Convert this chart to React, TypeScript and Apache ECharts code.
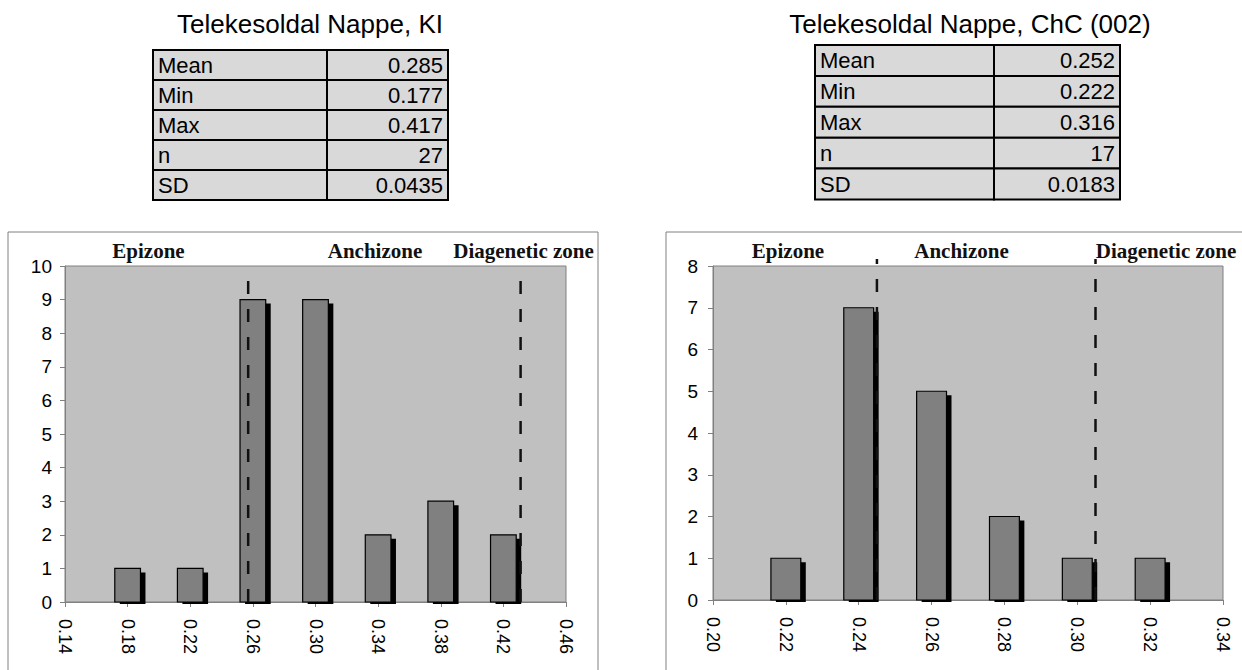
import React, { useEffect, useRef } from "react";
import * as echarts from "echarts";

// Illite crystallinity (KI) histogram
const kiTitle = "Telekesoldal Nappe, KI";
const kiBinLabels = ["0.14", "0.18", "0.22", "0.26", "0.30", "0.34", "0.38", "0.42", "0.46"];
const kiCounts = [0, 1, 1, 9, 9, 2, 3, 2, 0];
const kiBoundaries = [0.257, 0.431];
const kiYMax = 10;
const kiStats = ["0.285", "0.177", "0.417", "27", "0.0435"];

// Chlorite crystallinity ChC (002) histogram
const chcTitle = "Telekesoldal Nappe, ChC (002)";
const chcBinLabels = ["0.20", "0.22", "0.24", "0.26", "0.28", "0.30", "0.32", "0.34"];
const chcCounts = [0, 1, 7, 5, 2, 1, 1, 0];
const chcBoundaries = [0.245, 0.305];
const chcYMax = 8;
const chcStats = ["0.252", "0.222", "0.316", "17", "0.0183"];

const zoneNames = ["Epizone", "Anchizone", "Diagenetic zone"];
const statNames = ["Mean", "Min", "Max", "n", "SD"];

const SANS = "'Liberation Sans', Arial, sans-serif";
const SERIF = "'Liberation Serif', 'Times New Roman', serif";

const panels = [
  {
    title: kiTitle,
    titleX: 310,
    labels: kiBinLabels,
    counts: kiCounts,
    bounds: kiBoundaries,
    yMax: kiYMax,
    stats: kiStats,
    table: { x: 153, y: 50, c1: 174, c2: 121, rowH: 30 },
    frame: { x: 8, y: 232, w: 590, h: 460 },
    grid: { left: 65, top: 266, width: 501, height: 336 },
    zoneX: [148.5, 375, 523.5],
    lineExt: 0,
    yLabelMargin: 13,
  },
  {
    title: chcTitle,
    titleX: 970,
    labels: chcBinLabels,
    counts: chcCounts,
    bounds: chcBoundaries,
    yMax: chcYMax,
    stats: chcStats,
    table: { x: 815, y: 45, c1: 179, c2: 126, rowH: 30.9 },
    frame: { x: 666, y: 232, w: 600, h: 460 },
    grid: { left: 713, top: 266, width: 510, height: 334 },
    zoneX: [788, 961.5, 1166],
    lineExt: 0.17,
    yLabelMargin: 15,
  },
];

function boundaryIndex(labels: string[], v: number) {
  const first = parseFloat(labels[0]);
  const step = parseFloat(labels[1]) - first;
  return (v - first) / step;
}

function buildOption() {
  const grid: any[] = [];
  const xAxis: any[] = [];
  const yAxis: any[] = [];
  const series: any[] = [];
  const graphic: any[] = [];

  panels.forEach((p, i) => {
    grid.push({
      ...p.grid,
      show: true,
      backgroundColor: "#c0c0c0",
      borderColor: "#808080",
      borderWidth: 1,
    });
    xAxis.push({
      type: "value",
      gridIndex: i,
      min: 0,
      max: p.labels.length - 1,
      interval: 1,
      axisLine: { show: true, onZero: false, lineStyle: { color: "#808080", width: 1 } },
      axisTick: { show: true, length: 5, lineStyle: { color: "#808080" } },
      splitLine: { show: false },
      axisLabel: {
        rotate: -90,
        margin: 17,
        color: "#000",
        fontFamily: SANS,
        fontSize: 18,
        showMinLabel: true,
        showMaxLabel: true,
        formatter: (v: number) => p.labels[Math.round(v)] ?? "",
      },
    });
    yAxis.push({
      type: "value",
      gridIndex: i,
      min: 0,
      max: p.yMax,
      interval: 1,
      axisLine: { show: true, lineStyle: { color: "#808080", width: 1 } },
      axisTick: { show: true, length: 5, lineStyle: { color: "#808080" } },
      splitLine: { show: false },
      axisLabel: { margin: p.yLabelMargin, color: "#000", fontFamily: SANS, fontSize: 19 },
    });

    // histogram bars with a hard black drop shadow
    series.push({
      type: "custom",
      xAxisIndex: i,
      yAxisIndex: i,
      data: p.counts.map((c, k) => [k, c]),
      encode: { x: 0, y: 1 },
      z: 2,
      renderItem: (_params: any, api: any) => {
        const v = api.value(1);
        if (!v) return { type: "group", children: [] };
        const base = api.coord([api.value(0), 0]);
        const top = api.coord([api.value(0), v]);
        const w = api.size([1, 0])[0] * 0.41;
        const h = base[1] - top[1];
        return {
          type: "group",
          children: [
            {
              type: "rect",
              shape: { x: top[0] - w / 2 + 5, y: top[1] + 4, width: w, height: h - 2 },
              style: { fill: "#000" },
            },
            {
              type: "rect",
              shape: { x: top[0] - w / 2, y: top[1], width: w, height: h },
              style: { fill: "#808080", stroke: "#000", lineWidth: 1.2 },
            },
          ],
        };
      },
    });

    // dashed zone boundaries
    p.bounds.forEach((b) => {
      const idx = boundaryIndex(p.labels, b);
      series.push({
        type: "line",
        xAxisIndex: i,
        yAxisIndex: i,
        data: [
          [idx, 0],
          [idx, p.yMax + p.lineExt],
        ],
        symbol: "none",
        clip: false,
        silent: true,
        z: 10,
        lineStyle: { color: "#111", width: 2.5, type: [13, 15] },
      });
    });

    // outer chart frame
    graphic.push({
      type: "rect",
      shape: { x: p.frame.x, y: p.frame.y, width: p.frame.w, height: p.frame.h },
      style: { fill: "none", stroke: "#808080", lineWidth: 1 },
      z: -1,
    });

    // title
    graphic.push({
      type: "text",
      x: p.titleX,
      y: 23.5,
      style: {
        text: p.title,
        font: `26px ${SANS}`,
        fill: "#000",
        align: "center",
        verticalAlign: "middle",
      },
    });

    // statistics table
    const t = p.table;
    statNames.forEach((name, r) => {
      const y = t.y + r * t.rowH;
      graphic.push({
        type: "rect",
        shape: { x: t.x, y, width: t.c1, height: t.rowH },
        style: { fill: "#d9d9d9", stroke: "#000", lineWidth: 2 },
      });
      graphic.push({
        type: "rect",
        shape: { x: t.x + t.c1, y, width: t.c2, height: t.rowH },
        style: { fill: "#d9d9d9", stroke: "#000", lineWidth: 2 },
      });
      graphic.push({
        type: "text",
        x: t.x + 5,
        y: y + t.rowH / 2,
        style: { text: name, font: `22px ${SANS}`, fill: "#000", align: "left", verticalAlign: "middle" },
        z: 5,
      });
      graphic.push({
        type: "text",
        x: t.x + t.c1 + t.c2 - 5,
        y: y + t.rowH / 2,
        style: { text: p.stats[r], font: `22px ${SANS}`, fill: "#000", align: "right", verticalAlign: "middle" },
        z: 5,
      });
    });

    // zone names above the plot
    zoneNames.forEach((z, k) => {
      graphic.push({
        type: "text",
        x: p.zoneX[k],
        y: 251,
        style: {
          text: z,
          font: `bold 21px ${SERIF}`,
          fill: "#111",
          align: "center",
          verticalAlign: "middle",
        },
        z: 20,
      });
    });
  });

  return {
    animation: false,
    backgroundColor: "#fff",
    grid,
    xAxis,
    yAxis,
    series,
    graphic,
  };
}

export default function App() {
  const ref = useRef<HTMLDivElement>(null);
  useEffect(() => {
    if (!ref.current) return;
    const chart = echarts.init(ref.current, undefined, { renderer: "svg" });
    chart.setOption(buildOption() as any);
    return () => chart.dispose();
  }, []);
  return (
    <div
      ref={ref}
      style={{ position: "absolute", left: 0, top: 0, width: 1242, height: 670, overflow: "hidden" }}
    />
  );
}
